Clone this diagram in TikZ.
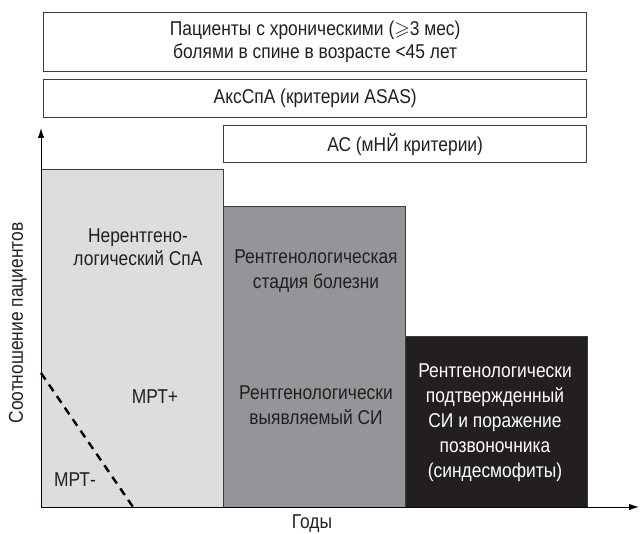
\documentclass[tikz,border=0pt]{standalone}
\usepackage{fontspec}
\usepackage{amssymb}
\setmainfont{Liberation Sans}[FakeStretch=0.87]
\usetikzlibrary{arrows.meta}
\definecolor{lightfill}{HTML}{DCDDDF}
\definecolor{midfill}{HTML}{939598}
\definecolor{darkfill}{HTML}{231F20}
\definecolor{edgegray}{HTML}{3C3C3C}
\definecolor{txt}{HTML}{231F20}
\tikzset{
  frame/.style={draw=edgegray, line width=1.3pt, anchor=north west, inner sep=0pt},
  lbl/.style={align=center, text=txt, inner sep=0pt, font=\fontsize{20}{25}\selectfont},
  axis/.style={draw=black, line width=1pt, -{Latex[length=10pt,width=6.5pt]}},
  mrt/.style={draw=black, line width=2.4pt, dash pattern=on 8pt off 6pt}
}
\begin{document}
\begin{tikzpicture}[x=1pt,y=-1pt]
\useasboundingbox[fill=white] (0,0) rectangle (640,534);
% header boxes
\node[frame, minimum width=543pt, minimum height=59pt] (top) at (43,12) {};
\node[frame, minimum width=543pt, minimum height=38pt] (asas) at (43,79) {};
\node[frame, minimum width=363pt, minimum height=37pt] (ac) at (223,125) {};
\node[lbl, font=\fontsize{20}{23}\selectfont] (toptxt) at (top.center) {Пациенты с хроническими ($\geqslant$3 мес)\\болями в спине в возрасте <45 лет};
\node[lbl] (asastxt) at (asas.center) {АксСпА (критерии ASAS)};
\node[lbl] (actxt) at (ac.center) {АС (мНЙ критерии)};
% bars
\node[frame, fill=lightfill, minimum width=182pt, minimum height=338pt] (light) at (41,169) {};
\node[frame, fill=midfill, minimum width=182pt, minimum height=301pt] (mid) at (223,206) {};
\node[frame, fill=darkfill, minimum width=182pt, minimum height=171pt] (dark) at (405,336) {};
% dashed divider
\coordinate (d1) at (41,373);
\coordinate (d2) at (133,507);
\draw[mrt] (d1) -- (d2);
% axes
\coordinate (o) at (41,507);
\coordinate (ytip) at (41,128);
\coordinate (xtip) at (639,507);
\draw[axis] (o) -- (ytip);
\draw[axis] (o) -- (xtip);
% texts in bars
\node[lbl, font=\fontsize{20}{23}\selectfont] (nr) at (138,247) {Нерентгено-\\логический СпА};
\node[lbl] (mplus) at (155,397) {МРТ+};
\node[lbl] (mminus) at (75,480) {МРТ-};
\node[lbl] (stage) at (316,271) {Рентгенологическая\\стадия болезни};
\node[lbl] (si) at (316,405) {Рентгенологически\\выявляемый СИ};
\node[lbl, text=white] (conf) at (495,423) {Рентгенологически\\подтвержденный\\СИ и поражение\\позвоночника\\(синдесмофиты)};
% axis labels
\node[lbl, rotate=90] (ylab) at (18,323) {Соотношение пациентов};
\node[lbl] (xlab) at (312,524) {Годы};
\end{tikzpicture}
\end{document}
